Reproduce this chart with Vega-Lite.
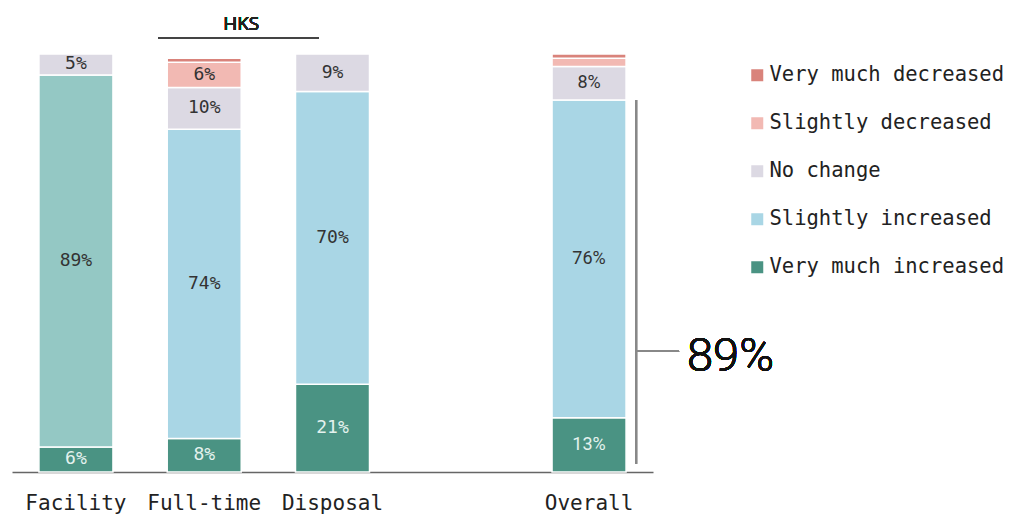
{
  "$schema": "https://vega.github.io/schema/vega-lite/v6.json",
  "width": 641,
  "height": 418,
  "autosize": {"type": "none"},
  "padding": {"left": 12, "top": 54, "right": 368, "bottom": 43},
  "background": "white",
  "config": {"view": {"stroke": null}},
  "data": {
    "values": [
      {"group": "Facility", "response": "Very much increased", "rank": 1, "value": 6},
      {"group": "Facility", "response": "Slightly increased", "rank": 2, "value": 89},
      {"group": "Facility", "response": "No change", "rank": 3, "value": 5},
      {"group": "Full-time", "response": "Very much increased", "rank": 1, "value": 8},
      {"group": "Full-time", "response": "Slightly increased", "rank": 2, "value": 74},
      {"group": "Full-time", "response": "No change", "rank": 3, "value": 10},
      {"group": "Full-time", "response": "Slightly decreased", "rank": 4, "value": 6},
      {"group": "Full-time", "response": "Very much decreased", "rank": 5, "value": 1},
      {"group": "Disposal", "response": "Very much increased", "rank": 1, "value": 21},
      {"group": "Disposal", "response": "Slightly increased", "rank": 2, "value": 70},
      {"group": "Disposal", "response": "No change", "rank": 3, "value": 9},
      {"group": "Overall", "response": "Very much increased", "rank": 1, "value": 13},
      {"group": "Overall", "response": "Slightly increased", "rank": 2, "value": 76},
      {"group": "Overall", "response": "No change", "rank": 3, "value": 8},
      {"group": "Overall", "response": "Slightly decreased", "rank": 4, "value": 2},
      {"group": "Overall", "response": "Very much decreased", "rank": 5, "value": 1}
    ]
  },
  "layer": [
    {
      "mark": {"type": "bar", "stroke": "white", "strokeWidth": 1.5},
      "encoding": {
        "x": {
          "field": "group", "type": "nominal",
          "scale": {"domain": ["Facility", "Full-time", "Disposal", " ", "Overall"], "paddingInner": 0.423, "paddingOuter": 0.21},
          "axis": {"title": null, "labelAngle": 0, "ticks": false, "tickSize": 0, "domainColor": "#666", "domainWidth": 1.5, "labelFont": "DejaVu Sans Mono", "labelFontSize": 21, "labelColor": "#222", "labelPadding": 20}
        },
        "y": {"field": "value", "type": "quantitative", "stack": "zero", "scale": {"domain": [0, 100]}, "axis": null},
        "order": {"field": "rank", "type": "quantitative", "sort": "ascending"},
        "color": {
          "condition": {"test": "datum.group === 'Facility' && datum.response === 'Slightly increased'", "value": "#94c8c4"},
          "field": "response", "type": "nominal",
          "scale": {
            "domain": ["Very much decreased", "Slightly decreased", "No change", "Slightly increased", "Very much increased"],
            "range": ["#d9837b", "#f2b9b3", "#dcd9e3", "#a9d6e5", "#4a9383"]
          },
          "legend": {
            "title": null, "orient": "none", "legendX": 735, "legendY": 11,
            "symbolType": "square", "symbolSize": 144, "symbolStrokeWidth": 0,
            "labelFont": "DejaVu Sans Mono", "labelFontSize": 20.5, "labelColor": "#222",
            "labelOffset": 2, "labelLimit": 0, "rowPadding": 27
          }
        }
      }
    },
    {
      "transform": [
        {"stack": "value", "groupby": ["group"], "sort": [{"field": "rank", "order": "ascending"}], "as": ["y0", "y1"]},
        {"fold": ["y0", "y1"], "as": ["edge", "pos"]},
        {"aggregate": [{"op": "mean", "field": "pos", "as": "mid"}], "groupby": ["group", "response", "value"]},
        {"filter": "datum.value >= 5"}
      ],
      "mark": {
        "type": "text", "fontSize": 18, "baseline": "middle", "align": "center",
        "font": {"expr": "datum.group === 'Overall' ? 'Roboto' : 'DejaVu Sans Mono'"},
        "text": {"expr": "datum.value + '%'"}
      },
      "encoding": {
        "x": {"field": "group", "type": "nominal"},
        "y": {"field": "mid", "type": "quantitative"},
        "color": {"condition": {"test": "datum.response === 'Very much increased'", "value": "#e4f2ee"}, "value": "#333333"}
      }
    },
    {
      "mark": {"type": "rule", "color": "#444", "strokeWidth": 1.5},
      "encoding": {
        "x": {"datum": "Full-time", "type": "nominal", "bandPosition": -0.12},
        "x2": {"datum": "Disposal", "bandPosition": 0.31},
        "y": {"datum": 103.8, "type": "quantitative"}
      }
    },
    {
      "mark": {"type": "text", "text": "HKS", "font": "Open Sans", "fontSize": 19, "fontWeight": "normal", "color": "#222", "baseline": "middle", "align": "center"},
      "encoding": {
        "x": {"datum": "Full-time", "type": "nominal", "bandPosition": 1.0},
        "y": {"datum": 107.2, "type": "quantitative"}
      }
    },
    {
      "mark": {"type": "rule", "color": "#888", "strokeWidth": 2},
      "encoding": {
        "x": {"datum": "Overall", "type": "nominal", "bandPosition": 1.135},
        "y": {"datum": 2, "type": "quantitative"},
        "y2": {"datum": 89}
      }
    },
    {
      "mark": {"type": "rule", "color": "#888", "strokeWidth": 1.5},
      "encoding": {
        "x": {"datum": "Overall", "type": "nominal", "bandPosition": 1.135},
        "x2": {"datum": "Overall", "bandPosition": 1.716},
        "y": {"datum": 28.9, "type": "quantitative"}
      }
    },
    {
      "mark": {"type": "text", "text": "89%", "font": "Roboto", "fontSize": 47, "fontWeight": 300, "color": "#111", "baseline": "middle", "align": "left"},
      "encoding": {
        "x": {"datum": "Overall", "type": "nominal", "bandPosition": 1.824},
        "y": {"datum": 27.5, "type": "quantitative"}
      }
    }
  ]
}
